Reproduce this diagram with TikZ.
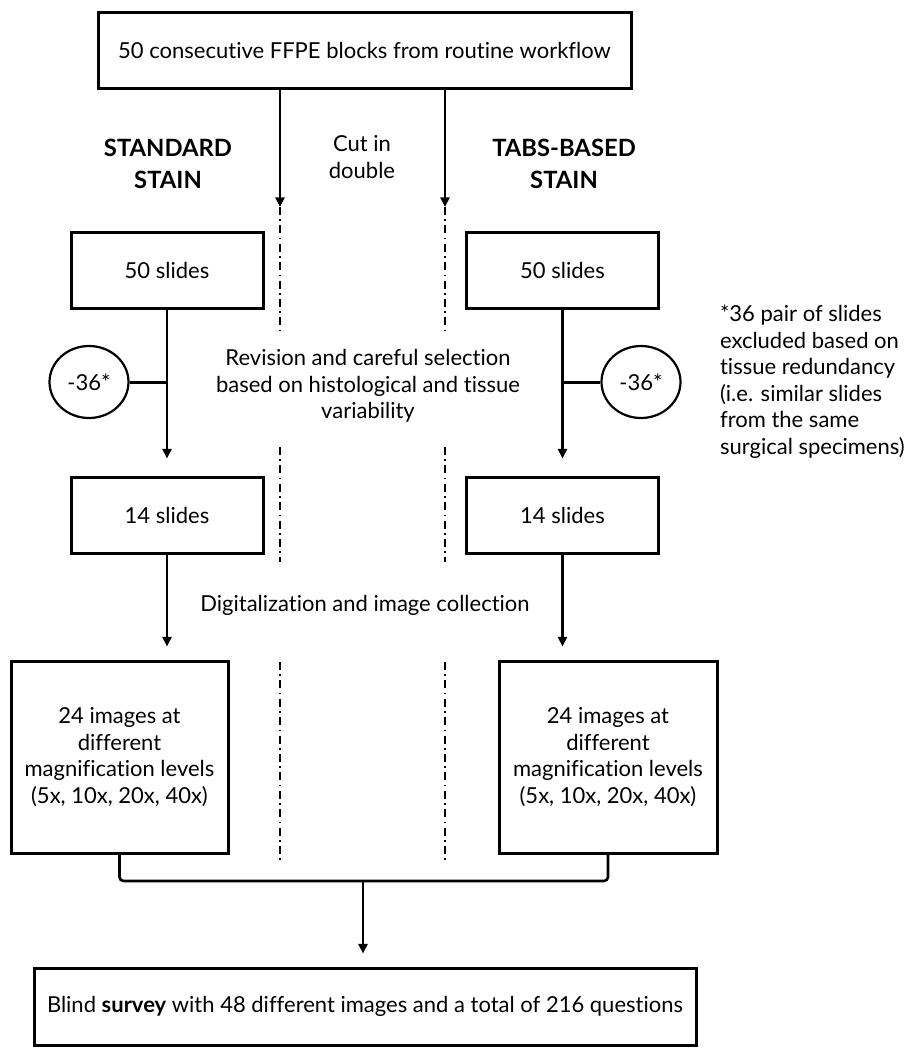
\documentclass[tikz,border=0pt]{standalone}
\usepackage{fontspec}
\setmainfont{Lato}[Ligatures=NoCommon]
\usetikzlibrary{arrows.meta, positioning, shapes.geometric}

\newcommand{\chartfont}{\fontsize{11}{13.25}\selectfont}
\newcommand{\stainfont}{\fontsize{11.9}{16}\selectfont\bfseries}

\tikzset{
  box/.style={draw, rectangle, line width=1.5pt, inner sep=0pt},
  flow/.style={-{Triangle[length=4.8pt,width=4.5pt]}, line width=1.3pt},
  split/.style={line width=0.9pt, dash pattern=on 4pt off 2.2pt on 0.8pt off 2.2pt},
}

\begin{document}
\begin{tikzpicture}[x=0.5pt, y=-0.5pt, every node/.style={align=center, font=\chartfont}]
        \useasboundingbox (0,0) rectangle (913,1055);

        \node (blocks) [box, minimum width=266.5pt, minimum height=38pt] at (364.5,50) {50 consecutive FFPE blocks from routine workflow};
        \node (stdlabel) [font=\stainfont] at (168,164) {STANDARD\\STAIN};
        \node (cut) at (362,157) {Cut in\\double};
        \node (tabslabel) [font=\stainfont] at (564,164) {TABS-BASED\\STAIN};

        \node (slidesA) [box, minimum width=96pt, minimum height=38pt] at (167,270) {50 slides};
        \node (slidesB) [box, minimum width=96pt, minimum height=38pt] at (562.5,270) {50 slides};
        \node (fewA) [box, minimum width=96pt, minimum height=38pt, below=83pt of slidesA] {14 slides};
        \node (fewB) [box, minimum width=96pt, minimum height=38pt, below=83pt of slidesB] {14 slides};

        \node (dropA) [ellipse, draw, line width=1.1pt, minimum width=39.5pt, minimum height=36pt, inner sep=0pt] at (89,382) {-36*};
        \node (dropB) [ellipse, draw, line width=1.1pt, minimum width=39.5pt, minimum height=36pt, inner sep=0pt] at (641,382) {-36*};

        \node (revision) at (368,386) {Revision and careful selection\\based on histological and tissue\\variability};
        \node (note) [align=left, anchor=west] at (713,381.5) {*36 pair of slides\\excluded based on\\tissue redundancy\\(i.e. similar slides\\from the same\\surgical specimens)};
        \node (digital) at (365,605) {Digitalization and image collection};

        \node (imgA) [box, minimum width=108.5pt, minimum height=96pt] at (119.5,757) {24 images at\\different\\magnification levels\\(5x, 10x, 20x, 40x)};
        \node (imgB) [box, minimum width=109pt, minimum height=96pt] at (608,757) {24 images at\\different\\magnification levels\\(5x, 10x, 20x, 40x)};

        \node (survey) [box, minimum width=331pt, minimum height=38.5pt] at (365,1006.5) {Blind \textbf{survey} with 48 different images and a total of 216 questions};

        % separators between the two stains
        \foreach \side/\xx in {A/280, B/445} {
            \coordinate (sep\side) at (\xx,207);
            \draw[flow] (blocks.south -| sep\side) -- (sep\side);
            \draw[split] (\xx,207) -- (\xx,332);
            \draw[split] (\xx,447) -- (\xx,562);
            \draw[split] (\xx,662) -- (\xx,862);
        }

        \draw[flow, shorten >=8.5pt] (slidesA) -- (fewA);
        \draw[flow, shorten >=8.5pt] (slidesB) -- (fewB);
        \draw[line width=1.5pt] (dropA) -- (dropA -| slidesA);
        \draw[line width=1.5pt] (dropB) -- (dropB -| slidesB);
        \draw[flow, shorten >=6.5pt] (fewA) -- (fewA |- imgA.north);
        \draw[flow, shorten >=6.5pt] (fewB) -- (fewB |- imgB.north);

        \coordinate (merge) at (363,881);
        \draw[line width=1.3pt, rounded corners=2pt] (imgA.south) |- (merge) -| (imgB.south);
        \draw[flow, shorten >=6.5pt] (merge) -- (merge |- survey.north);
    \end{tikzpicture}
\end{document}
